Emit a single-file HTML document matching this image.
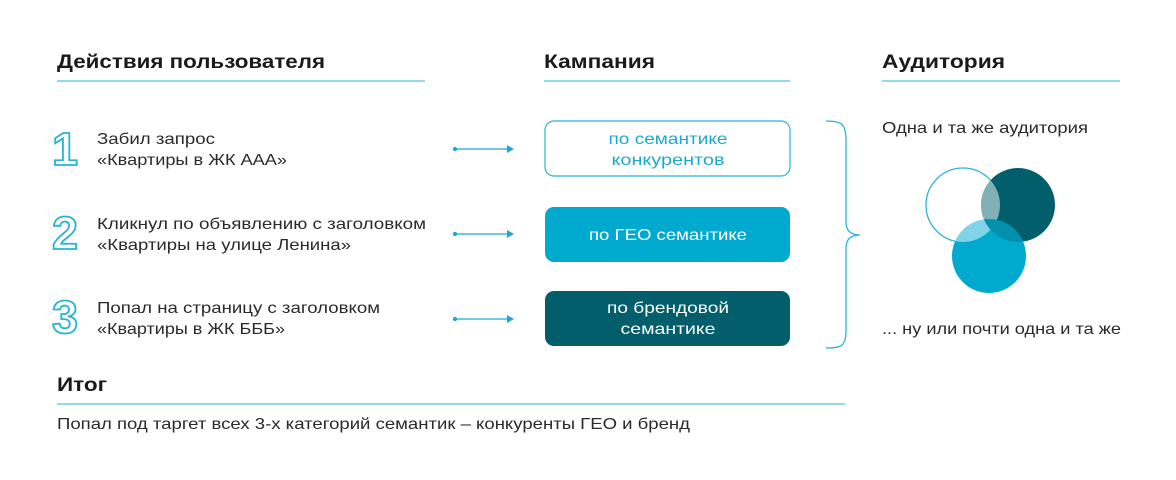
<!DOCTYPE html>
<html><head><meta charset="utf-8"><style>
body{margin:0;background:#fff;}
svg{display:block;font-family:"Liberation Sans",sans-serif;}
</style></head><body>
<svg width="1176" height="480" viewBox="0 0 1176 480" xmlns="http://www.w3.org/2000/svg">
<g font-weight="bold" font-size="19" fill="#1a1a1a">
<text x="57" y="68" textLength="268" lengthAdjust="spacingAndGlyphs">Действия пользователя</text>
<text x="544" y="68" textLength="111" lengthAdjust="spacingAndGlyphs">Кампания</text>
<text x="882" y="68" textLength="123" lengthAdjust="spacingAndGlyphs">Аудитория</text>
<text x="57" y="391" textLength="50" lengthAdjust="spacingAndGlyphs">Итог</text>
</g>
<g stroke="#29b3d6" stroke-width="1">
<line x1="57" y1="81" x2="425" y2="81"/>
<line x1="544" y1="81" x2="790" y2="81"/>
<line x1="882" y1="81" x2="1120" y2="81"/>
<line x1="57" y1="404" x2="845" y2="404"/>
</g>
<g font-size="46" fill="#fff" stroke="#29b3d6" stroke-width="1.8" font-weight="bold">
<text x="52" y="165" textLength="26" lengthAdjust="spacingAndGlyphs">1</text>
<text x="52" y="249" textLength="26" lengthAdjust="spacingAndGlyphs">2</text>
<text x="52" y="333" textLength="26" lengthAdjust="spacingAndGlyphs">3</text>
</g>
<g font-size="16" fill="#2a2a2a">
<text x="97" y="144" textLength="118" lengthAdjust="spacingAndGlyphs">Забил запрос</text>
<text x="97" y="165" textLength="190" lengthAdjust="spacingAndGlyphs">«Квартиры в ЖК ААА»</text>
<text x="97" y="229" textLength="329" lengthAdjust="spacingAndGlyphs">Кликнул по объявлению с заголовком</text>
<text x="97" y="250" textLength="254" lengthAdjust="spacingAndGlyphs">«Квартиры на улице Ленина»</text>
<text x="97" y="313" textLength="283" lengthAdjust="spacingAndGlyphs">Попал на страницу с заголовком</text>
<text x="97" y="334" textLength="188" lengthAdjust="spacingAndGlyphs">«Квартиры в ЖК БББ»</text>
<text x="882" y="133" textLength="206" lengthAdjust="spacingAndGlyphs">Одна и та же аудитория</text>
<text x="882" y="334" textLength="239" lengthAdjust="spacingAndGlyphs">... ну или почти одна и та же</text>
<text x="57" y="429" textLength="633" lengthAdjust="spacingAndGlyphs">Попал под таргет всех 3-х категорий семантик – конкуренты ГЕО и бренд</text>
</g>
<g stroke="#1aa9d1" stroke-width="1.3" fill="#1aa9d1">
<line x1="455" y1="149" x2="508" y2="149"/><polygon points="507,145 514,149 507,153" stroke="none"/><circle cx="455" cy="149" r="1.5"/>
<line x1="455" y1="234" x2="508" y2="234"/><polygon points="507,230 514,234 507,238" stroke="none"/><circle cx="455" cy="234" r="1.5"/>
<line x1="455" y1="319" x2="508" y2="319"/><polygon points="507,315 514,319 507,323" stroke="none"/><circle cx="455" cy="319" r="1.5"/>
</g>
<rect x="545" y="121" width="245" height="55" rx="9" fill="#fff" stroke="#29b3d6" stroke-width="1.2"/>
<rect x="545" y="207" width="245" height="55" rx="9" fill="#00aacf"/>
<rect x="545" y="291" width="245" height="55" rx="9" fill="#035e6c"/>
<g font-size="16" text-anchor="middle">
<text x="668" y="144" fill="#1aa9d1" textLength="119" lengthAdjust="spacingAndGlyphs">по семантике</text>
<text x="668" y="165" fill="#1aa9d1" textLength="113" lengthAdjust="spacingAndGlyphs">конкурентов</text>
<text x="668" y="240" fill="#fff" textLength="158" lengthAdjust="spacingAndGlyphs">по ГЕО семантике</text>
<text x="668" y="313" fill="#fff" textLength="122" lengthAdjust="spacingAndGlyphs">по брендовой</text>
<text x="668" y="334" fill="#fff" textLength="95" lengthAdjust="spacingAndGlyphs">семантике</text>
</g>
<path d="M826,121 C842,121 846,124 846,140 L846,222 C846,232 852,235 860,235 C852,235 846,238 846,248 L846,330 C846,346 842,348 826,348" fill="none" stroke="#29b3d6" stroke-width="1.3"/>
<circle cx="963" cy="205" r="37" fill="#fff" stroke="#29b3d6" stroke-width="1.3"/>
<circle cx="1018" cy="205" r="37" fill="#035e6c"/>
<circle cx="989" cy="256" r="37" fill="#00aacf"/>
<g opacity="0.5">
<clipPath id="c1"><circle cx="963" cy="205" r="37"/></clipPath>
<circle cx="1018" cy="205" r="37" fill="#fff" clip-path="url(#c1)"/>
<circle cx="989" cy="256" r="37" fill="#fff" clip-path="url(#c1)"/>
</g>
<clipPath id="c2"><circle cx="1018" cy="205" r="37"/></clipPath>
<circle cx="989" cy="256" r="37" fill="#0390ad" clip-path="url(#c2)"/>
</svg>
</body></html>
